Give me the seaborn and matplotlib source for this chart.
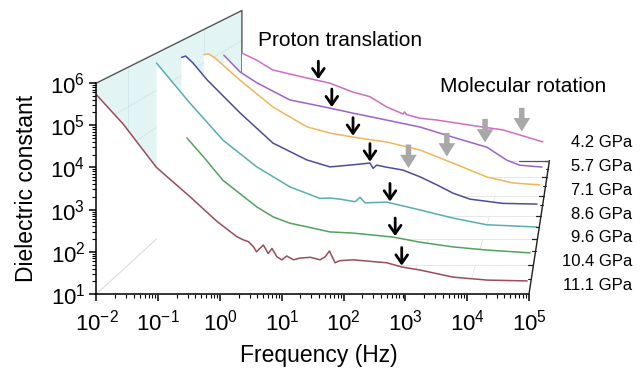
import numpy as np
import seaborn as sns
import matplotlib.pyplot as plt
from matplotlib.ticker import LogLocator, NullFormatter

# pressures, back (4.2 GPa) to front (11.1 GPa)
pressures = ["4.2 GPa", "5.7 GPa", "7.1 GPa", "8.6 GPa", "9.6 GPa", "10.4 GPa", "11.1 GPa"]
colors = ["#d26cc3", "#9c62cf", "#f2b659", "#4c4c9c", "#58adb2", "#52a35b", "#9b4c56"]

# log10(frequency / Hz) and log10(dielectric constant)
logf_42 = [-2.0, -1.67, -1.30, -0.52, 0.00, 0.53, 0.91, 1.29, 1.67, 1.70, 1.75, 2.05, 2.44, 3.19, 3.94, 4.33, 4.85]
logeps_42 = [4.58, 4.35, 4.02, 3.75, 3.58, 3.28, 3.13, 2.79, 2.55, 2.62, 2.53, 2.41, 2.35, 2.18, 2.02, 1.85, 1.62]

logf_57 = [-2.0, -1.65, -1.28, -0.57, 0.30, 0.80, 1.53, 2.25, 2.96, 3.70, 4.13, 4.41, 4.89]
logeps_57 = [4.87, 4.34, 3.99, 3.45, 3.19, 3.03, 2.81, 2.59, 2.27, 1.95, 1.54, 1.38, 1.32]

logf_71 = [-2.0, -1.90, -1.75, -1.26, -0.58, 0.12, 0.60, 1.07, 1.77, 2.45, 3.12, 3.82, 4.36, 4.91]
logeps_71 = [5.24, 5.27, 5.12, 4.48, 3.67, 3.07, 2.88, 2.76, 2.61, 2.37, 1.98, 1.56, 1.38, 1.32]

logf_86 = [-2.0, -1.92, -1.78, -1.50, -0.86, -0.22, 0.44, 0.89, 1.34, 1.67, 1.73, 1.80, 2.00, 2.31, 2.64, 2.97, 3.29, 3.62, 4.26, 4.92]
logeps_86 = [5.52, 5.56, 5.37, 4.88, 3.94, 3.08, 2.60, 2.40, 2.46, 2.51, 2.36, 2.45, 2.39, 2.31, 2.12, 1.89, 1.65, 1.48, 1.36, 1.34]

logf_96 = [-2.0, -1.39, -0.78, -0.47, -0.16, 0.45, 1.00, 1.19, 1.37, 1.65, 1.74, 1.83, 2.23, 2.84, 3.45, 4.07, 4.99]
logeps_96 = [5.73, 4.66, 3.66, 3.30, 2.94, 2.40, 2.09, 2.10, 2.07, 2.00, 2.12, 1.97, 1.99, 1.78, 1.56, 1.38, 1.32]

logf_104 = [-0.99, -0.68, -0.37, 0.22, 0.50, 0.79, 1.08, 1.48, 1.88, 2.57, 3.04, 3.61, 4.20, 4.94]
logeps_104 = [4.21, 3.69, 3.14, 2.46, 2.21, 2.05, 1.96, 1.83, 1.80, 1.70, 1.57, 1.45, 1.37, 1.30]

logf_111 = [-2.0, -1.57, -1.03, -0.49, -0.05, 0.27, 0.38, 0.46, 0.54, 0.59, 0.70, 0.78, 0.84, 0.92, 1.00, 1.08,
            1.19, 1.29, 1.46, 1.62, 1.70, 1.77, 1.86, 1.94, 2.15, 2.70, 2.94, 3.23, 3.77, 4.32, 4.97]
logeps_111 = [5.72, 5.03, 4.00, 3.31, 2.72, 2.36, 2.28, 2.24, 2.12, 2.00, 2.16, 1.96, 2.08, 1.88, 1.81, 1.90,
              1.81, 1.85, 1.87, 1.81, 1.88, 2.02, 1.74, 1.79, 1.81, 1.74, 1.64, 1.57, 1.40, 1.33, 1.31]

all_logf = [logf_42, logf_57, logf_71, logf_86, logf_96, logf_104, logf_111]
all_logeps = [logeps_42, logeps_57, logeps_71, logeps_86, logeps_96, logeps_104, logeps_111]

# arrow positions, log10(f)
proton_logf = [-0.26, 0.34, 1.07, 1.67, 2.29, 2.61, 2.94]   # all seven curves
rotation_logf = [4.37, 3.66, 3.00, 2.42]                    # 4.2 .. 8.6 GPa

# perspective: vanishing point in front-plane log units, depth shrink per curve
VU, VV, K = 6.147, 11.948, 0.0677
NDEPTH = len(pressures) - 1


def project(lf, le, depth):
    s = 1.0 / (1.0 + K * np.asarray(depth, dtype=float))
    u = VU + s * (np.asarray(lf, dtype=float) - VU)
    v = VV + s * (np.asarray(le, dtype=float) - VV)
    return 10 ** u, 10 ** v


sns.set_theme(style="ticks")
plt.rcParams["font.family"] = ["Liberation Sans", "DejaVu Sans"]
plt.rcParams["mathtext.default"] = "regular"
for key in ["text.color", "axes.labelcolor", "xtick.color", "ytick.color", "axes.edgecolor"]:
    plt.rcParams[key] = "black"

fig = plt.figure(figsize=(6.41, 3.76), dpi=100)
ax = fig.add_axes([96.5 / 641, (376 - 294) / 376, 432.5 / 641, 211 / 376])
ax.set_xscale("log")
ax.set_yscale("log")
ax.set_xlim(1e-2, 1e5)
ax.set_ylim(1e1, 1e6)

# left wall
wx, wy = project([-2, -2, -2, -2], [1, 6, 6, 1], [0, 0, NDEPTH, NDEPTH])
ax.fill(wx, wy, color="#e3f4f4", lw=0, zorder=0.3, clip_on=False)
for v in [2, 3, 4, 5]:
    gx, gy = project([-2, -2], [v, v], [0, NDEPTH])
    ax.plot(gx, gy, color="#cfe5e5", lw=0.6, zorder=0.35, clip_on=False)
for d in [1, 4]:
    gx, gy = project([-2, -2], [1, 6], [d, d])
    ax.plot(gx, gy, color="#cfe5e5", lw=0.6, zorder=0.35, clip_on=False)
ex, ey = project([-2, -2, -2], [6, 6, 1], [0, NDEPTH, NDEPTH])
ax.plot(ex, ey, color="#555555", lw=1.0, zorder=0.4, clip_on=False)

# floor grid
for u in range(-2, 6):
    gx, gy = project([u, u], [1, 1], [0, NDEPTH])
    ax.plot(gx, gy, color="#e3e3e3", lw=0.6, zorder=0.35, clip_on=False)

# curves, back to front, each hiding what is behind it
for k, name in enumerate(pressures):
    depth = NDEPTH - k
    lf, le = all_logf[k], all_logeps[k]
    z = 1 + 0.1 * k
    fx, fy = project(lf + [lf[-1], lf[0]], le + [1, 1], depth)
    ax.fill(fx, fy, color="white", lw=0, zorder=z, clip_on=False)
    bx, by = project([lf[0], lf[-1]], [1, 1], depth)
    ax.plot(bx, by, color="#e3e3e3", lw=0.6, zorder=z + 0.02, clip_on=False)
    px, py = project(lf, le, depth)
    sns.lineplot(x=px, y=py, color=colors[k], lw=1.1, sort=False, estimator=None,
                 ax=ax, zorder=z + 0.05, clip_on=False)

# floor edge under the wall
gx, gy = project([-2, -2], [1, 1], [0, 2])
ax.plot(gx, gy, color="#dcdcdc", lw=0.8, zorder=2, clip_on=False)

# depth axis on the right
rx, ry = project([5, 5], [1, 1], [0, NDEPTH])
ax.plot(rx, ry, color="#222222", lw=1.0, zorder=3, clip_on=False)
for d in range(1, NDEPTH + 1):
    tx, ty = project([5, 4.9], [1, 1], [d, d])
    ax.plot(tx, ty, color="#222222", lw=0.9, zorder=3, clip_on=False)
for d in np.arange(0.5, NDEPTH, 1.0):
    tx, ty = project([5, 4.94], [1, 1], [d, d])
    ax.plot(tx, ty, color="#222222", lw=0.8, zorder=3, clip_on=False)
tx, ty = project([5, 4.3], [1, 1], [NDEPTH, NDEPTH])
ax.plot(tx, ty, color="#555555", lw=0.9, zorder=3, clip_on=False)

# arrows
for k, uf in enumerate(proton_logf):
    depth = NDEPTH - k
    v = np.interp(uf, all_logf[k], all_logeps[k])
    xa, ya = project(uf, v, depth)
    ax.annotate("", xy=(xa, ya), xytext=(0, 14), textcoords="offset points",
                arrowprops=dict(arrowstyle="->,head_length=0.5,head_width=0.35", lw=2.0,
                                color="black", shrinkA=0, shrinkB=1),
                annotation_clip=False, zorder=5)
for k, uf in enumerate(rotation_logf):
    depth = NDEPTH - k
    v = np.interp(uf, all_logf[k], all_logeps[k])
    xa, ya = project(uf, v, depth)
    ax.annotate("", xy=(xa, ya), xytext=(0, 20), textcoords="offset points",
                arrowprops=dict(arrowstyle="simple,head_length=0.8,head_width=1.0,tail_width=0.33",
                                color="#a8a8a8", lw=0, shrinkA=0, shrinkB=3),
                annotation_clip=False, zorder=5)

fig.text(340 / 641, 1 - 41 / 376, "Proton translation", ha="center", va="center", fontsize=15)
fig.text(523 / 641, 1 - 87 / 376, "Molecular rotation", ha="center", va="center", fontsize=15)
for k, name in enumerate(pressures):
    fig.text(632 / 641, 1 - (143 + 23.7 * k) / 376, name, ha="right", va="center", fontsize=12)

# axes
sns.despine(ax=ax)
ax.spines["left"].set_linewidth(1.1)
ax.spines["bottom"].set_linewidth(1.1)
ax.xaxis.set_major_locator(LogLocator(base=10, numticks=20))
ax.yaxis.set_major_locator(LogLocator(base=10, numticks=20))
ax.xaxis.set_minor_locator(LogLocator(base=10, subs=np.arange(2, 10), numticks=100))
ax.yaxis.set_minor_locator(LogLocator(base=10, subs=np.arange(2, 10), numticks=100))
ax.xaxis.set_minor_formatter(NullFormatter())
ax.yaxis.set_minor_formatter(NullFormatter())
ax.tick_params(which="major", direction="out", length=5, width=1.1, labelsize=16)
ax.tick_params(which="minor", direction="out", length=3, width=0.8)
ax.tick_params(axis="x", which="major", pad=6)
ax.tick_params(axis="y", which="major", pad=3)
ax.set_xlabel("Frequency (Hz)", fontsize=16.5)
ax.set_ylabel("Dielectric constant", fontsize=16.5)
ax.xaxis.set_label_coords(0.515, -0.235)
ax.yaxis.set_label_coords(-0.135, 0.5)

fig.savefig("out.png", dpi=100)
